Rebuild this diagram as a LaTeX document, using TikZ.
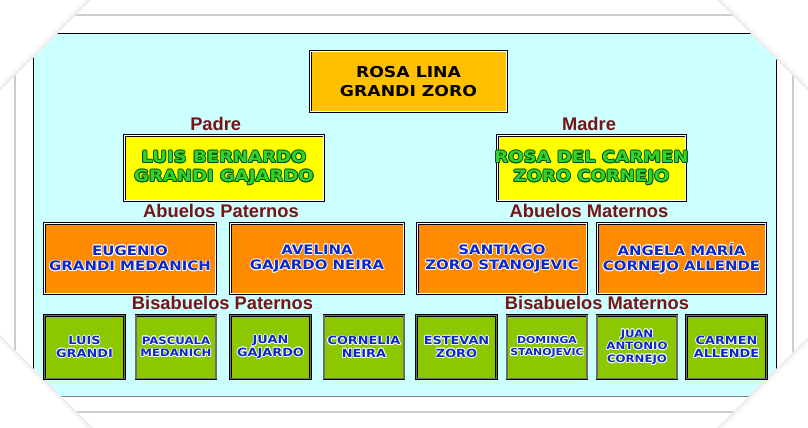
\documentclass[tikz,border=0pt]{standalone}
\usepackage{fontspec}
\newfontfamily\copfont{DejaVu Sans Bold}[FakeStretch=1.15]
\newfontfamily\labfont{Liberation Sans Bold}
\definecolor{bgcyan}{RGB}{204,255,255}
\definecolor{rootorange}{RGB}{255,192,0}
\definecolor{boxyellow}{RGB}{255,255,0}
\definecolor{boxorange}{RGB}{255,140,0}
\definecolor{boxgreen}{RGB}{140,200,0}
\definecolor{labred}{RGB}{120,20,20}
\definecolor{txtblue}{RGB}{10,40,200}
\definecolor{dkgreen}{RGB}{0,85,0}
\definecolor{ltgreen}{RGB}{50,210,50}
\definecolor{pagegray}{RGB}{205,205,205}
\definecolor{midgray}{RGB}{110,110,110}
\newcommand\oltext{}
\newcommand\olc[2]{\makebox[0pt][l]{\hspace*{#1}\raisebox{#2}{\oltext}}}
\newcommand\olt[3]{{\def\oltext{#3}\makebox[0pt][l]{\color{#1}\olc{.85pt}{0pt}\olc{-.85pt}{0pt}\olc{0pt}{.85pt}\olc{0pt}{-.85pt}\olc{.6pt}{.6pt}\olc{-.6pt}{.6pt}\olc{.6pt}{-.6pt}\olc{-.6pt}{-.6pt}}\textcolor{#2}{#3}}}
\newcommand\bn[1]{\makebox[0pt]{\olt{white}{txtblue}{#1}}}
\newcommand\gn[1]{\makebox[0pt]{\olt{dkgreen}{ltgreen}{#1}}}
\newcommand\kn[1]{\makebox[0pt]{#1}}
\tikzset{
  pbox/.style={draw=black, line width=0.7pt, double=white, double distance=1.1pt,
    inner sep=0pt, align=center},
  rootbox/.style={pbox, fill=rootorange, minimum width=196.5pt, minimum height=60.5pt,
    font=\copfont\fontsize{15}{19.5}\selectfont},
  ybox/.style={pbox, fill=boxyellow, minimum height=65.5pt,
    font=\copfont\fontsize{15.7}{19}\selectfont},
  obox/.style={pbox, fill=boxorange, minimum height=70.5pt,
    font=\copfont\fontsize{13}{15.5}\selectfont},
  gbox/.style={pbox, double=midgray, fill=boxgreen,
    minimum height=63.5pt, minimum width=80pt,
    font=\copfont\fontsize{11.2}{12.6}\selectfont},
  lab/.style={font=\labfont\fontsize{18.3}{20}\selectfont, text=labred,
    anchor=base, inner sep=0pt},
  shade/.style={pagegray, line width=1.4pt}
}
\begin{document}
\begin{tikzpicture}[x=1pt,y=-1pt]
\useasboundingbox (0,0) rectangle (808,428);
\fill[white] (0,0) rectangle (808,428);
% page edges
\draw[pagegray, line width=1.2pt] (15,15) rectangle (793,412);
% photo
\fill[bgcyan] (33,33) rectangle (776,396);
\draw[black, line width=0.9pt] (33,396) -- (33,33) -- (776,33) -- (776,396);
\draw[gray, line width=0.8pt] (33,396) -- (776,396);
% photo corners
\fill[white] (0,0) -- (91,0) -- (0,91) -- cycle;
\fill[white] (717,0) -- (808,0) -- (808,91) -- cycle;
\fill[white] (0,335) -- (0,428) -- (93,428) -- cycle;
\fill[white] (808,337) -- (808,428) -- (717,428) -- cycle;
\foreach \d/\o in {0.6/0.4,1.6/0.22,2.8/0.1}{
  \draw[shade, opacity=\o, shift={(-\d,-\d)}] (101,-10) -- (-10,101);
  \draw[shade, opacity=\o, shift={(\d,-\d)}] (707,-10) -- (818,101);
  \draw[shade, opacity=\o, shift={(-\d,\d)}] (-10,325) -- (103,438);
  \draw[shade, opacity=\o, shift={(\d,\d)}] (818,327) -- (707,438);
}
% root
\node[rootbox] (root) at (408.5,81.5) {\kn{ROSA LINA}\\\kn{GRANDI ZORO}};
% parents
\node[lab] (lpadre) at (215.7,130) {Padre};
\node[lab] (lmadre) at (589,130) {Madre};
\node[ybox, minimum width=199.5pt] (padre) at (224,168) {\gn{LUIS BERNARDO}\\\gn{GRANDI GAJARDO}};
\node[ybox, minimum width=188.5pt] (madre) at (591.5,168) {\gn{ROSA DEL CARMEN}\\\gn{ZORO CORNEJO}};
% grandparents
\node[lab] (labp) at (221,217.5) {Abuelos Paternos};
\node[lab] (labm) at (589,217.5) {Abuelos Maternos};
\node[obox, minimum width=171.5pt] (eugenio) at (130,258.5) {\bn{EUGENIO}\\\bn{GRANDI MEDANICH}};
\node[obox, minimum width=173.5pt] (avelina) at (317,258.5) {\bn{AVELINA}\\\bn{GAJARDO NEIRA}};
\node[obox, minimum width=169.5pt] (santiago) at (502,258.5) {\bn{SANTIAGO}\\\bn{ZORO STANOJEVIC}};
\node[obox, minimum width=168.5pt] (angela) at (681.5,258.5) {\bn{ANGELA MARÍA}\\\bn{CORNEJO ALLENDE}};
% great-grandparents
\node[lab] (lbp) at (222.5,309.5) {Bisabuelos Paternos};
\node[lab] (lbm) at (597,309.5) {Bisabuelos Maternos};
\node[gbox] (luis) at (84.5,347) {\bn{LUIS}\\\bn{GRANDI}};
\node[gbox, font=\copfont\fontsize{10.2}{12.4}\selectfont] (pascuala) at (176,347) {\bn{PASCUALA}\\\bn{MEDANICH}};
\node[gbox] (juang) at (270.5,347) {\bn{JUAN}\\\bn{GAJARDO}};
\node[gbox] (cornelia) at (364,347) {\bn{CORNELIA}\\\bn{NEIRA}};
\node[gbox] (estevan) at (456.5,347) {\bn{ESTEVAN}\\\bn{ZORO}};
\node[gbox, font=\copfont\fontsize{9.5}{12}\selectfont] (dominga) at (547,347) {\bn{DOMINGA}\\\bn{STANOJEVIC}};
\node[gbox, font=\copfont\fontsize{10.2}{12.7}\selectfont] (juanc) at (637,347) {\bn{JUAN}\\\bn{ANTONIO}\\\bn{CORNEJO}};
\node[gbox] (carmen) at (726.5,347) {\bn{CARMEN}\\\bn{ALLENDE}};
\end{tikzpicture}
\end{document}
